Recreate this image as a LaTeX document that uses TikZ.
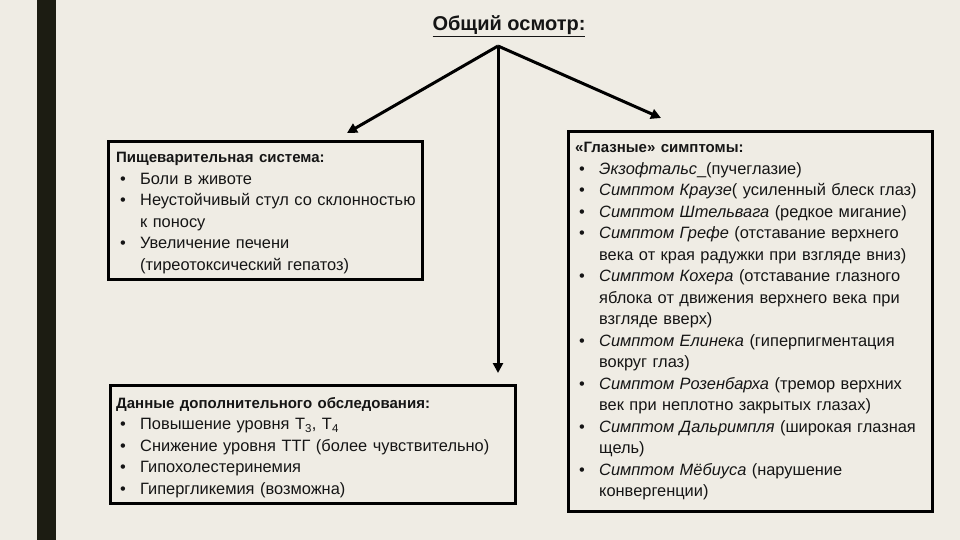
\documentclass[tikz,border=0pt]{standalone}
\usepackage{fontspec}
\setmainfont{Liberation Sans}
\usetikzlibrary{arrows.meta}
\definecolor{bg}{HTML}{EFECE4}
\definecolor{barc}{HTML}{1C1C12}
\definecolor{ink}{HTML}{151515}
\newcommand\bul[1]{\par\noindent\makebox[24pt][l]{\hspace{4pt}•}#1}
\newcommand\cont[1]{\par\noindent\hspace*{24pt}#1}
\newcommand\hd[1]{{\fontsize{15}{21.5}\selectfont\bfseries #1}}
\tikzset{
  box/.style={draw=black, line width=3pt, inner sep=0pt},
  txt/.style={anchor=north west, inner sep=0pt, align=left, text width=380pt, text=ink,
    font=\fontsize{16.4}{21.5}\selectfont},
  arr/.style={line width=3pt, -{Triangle[length=10pt,width=10pt]}}
}
\begin{document}
\begin{tikzpicture}[x=1pt,y=-1pt]
\fill[bg] (0,0) rectangle (960,540);
\useasboundingbox (0,0) rectangle (960,540);
\fill[barc] (37,0) rectangle (56,540);

\node[text=ink, font=\fontsize{20}{24}\selectfont\bfseries] (title) at (509,26) {\underline{Общий осмотр:}};
\coordinate (apex) at (498,46);

\node[box, minimum width=314pt, minimum height=137pt] (dig) at (265,210.5) {};
\node[box, minimum width=405pt, minimum height=118pt] (lab) at (312.5,444) {};
\node[box, minimum width=364pt, minimum height=379pt] (eye) at (750,321.5) {};

\coordinate (tipL) at (347,133);
\coordinate (tipR) at (661,118);
\coordinate (tipD) at (498,373);
\draw[arr] (apex) -- (tipL);
\draw[arr] (apex) -- (tipR);
\draw[arr] (apex) -- (tipD);

\node[txt] (digt) at (116,152) {\hd{Пищеварительная система:}
\bul{Боли в животе}
\bul{Неустойчивый стул со склонностью}
\cont{к поносу}
\bul{Увеличение печени}
\cont{(тиреотоксический гепатоз)}};

\node[txt] (labt) at (116,397) {\hd{Данные дополнительного обследования:}
\bul{Повышение уровня Т\textsubscript{3}, Т\textsubscript{4}}
\bul{Снижение уровня ТТГ (более чувствительно)}
\bul{Гипохолестеринемия}
\bul{Гипергликемия (возможна)}};

\node[txt] (eyet) at (575,142) {\hd{«Глазные» симптомы:}
\bul{\textit{Экзофтальс}\_(пучеглазие)}
\bul{\textit{Симптом Краузе}( усиленный блеск глаз)}
\bul{\textit{Симптом Штельвага} (редкое мигание)}
\bul{\textit{Симптом Грефе} (отставание верхнего}
\cont{века от края радужки при взгляде вниз)}
\bul{\textit{Симптом Кохера} (отставание глазного}
\cont{яблока от движения верхнего века при}
\cont{взгляде вверх)}
\bul{\textit{Симптом Елинека} (гиперпигментация}
\cont{вокруг глаз)}
\bul{\textit{Симптом Розенбарха} (тремор верхних}
\cont{век при неплотно закрытых глазах)}
\bul{\textit{Симптом Дальримпля} (широкая глазная}
\cont{щель)}
\bul{\textit{Симптом Мёбиуса} (нарушение}
\cont{конвергенции)}};
\end{tikzpicture}
\end{document}
